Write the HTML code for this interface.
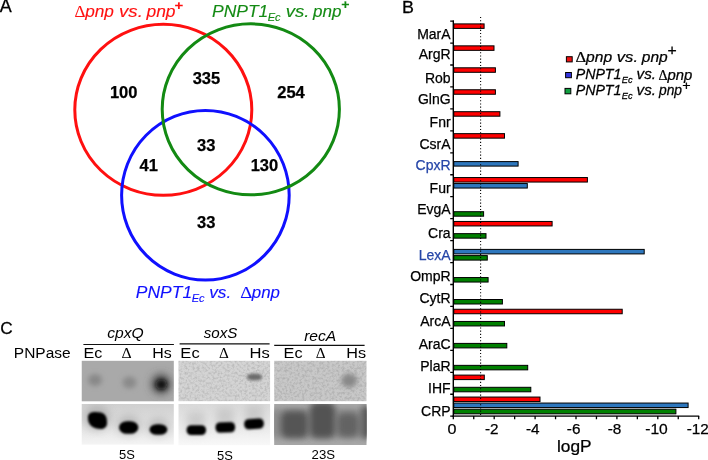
<!DOCTYPE html>
<html><head><meta charset="utf-8"><style>
html,body{margin:0;padding:0;background:#fff;}
svg{display:block;}
text{font-family:"Liberation Sans",Arial,sans-serif;stroke-width:0.25px;}
text.sr{font-family:"Liberation Serif",serif;}
</style></head><body>
<svg width="708" height="460" viewBox="0 0 708 460">
<defs>
<filter id="b0" x="-50%" y="-50%" width="200%" height="200%"><feGaussianBlur stdDeviation="0.8"/></filter>
<filter id="grain" x="0" y="0" width="100%" height="100%"><feTurbulence type="fractalNoise" baseFrequency="0.4" numOctaves="3" seed="5" result="t"/><feColorMatrix in="t" type="matrix" values="0 0 0 0 0  0 0 0 0 0  0 0 0 0 0  2.5 0 0 0 -1.0" result="a"/><feComposite in="SourceGraphic" in2="a" operator="in" result="c"/><feGaussianBlur in="c" stdDeviation="0.6"/></filter>
<filter id="b1" x="-50%" y="-50%" width="200%" height="200%"><feGaussianBlur stdDeviation="2.5"/></filter>
<filter id="b2" x="-50%" y="-50%" width="200%" height="200%"><feGaussianBlur stdDeviation="1.5"/></filter>
<filter id="b25" x="-50%" y="-50%" width="200%" height="200%"><feGaussianBlur stdDeviation="3.2"/></filter>
<filter id="b3" x="-50%" y="-50%" width="200%" height="200%"><feGaussianBlur stdDeviation="4"/></filter>
<linearGradient id="g5a" x1="0" y1="0" x2="0" y2="1"><stop offset="0" stop-color="#cfcfcf"/><stop offset="1" stop-color="#f4f4f4"/></linearGradient>
<linearGradient id="g5b" x1="0" y1="0" x2="0" y2="1"><stop offset="0" stop-color="#dadada"/><stop offset="1" stop-color="#f8f8f8"/></linearGradient>
<clipPath id="c1t"><rect x="81.5" y="360.6" width="92.4" height="41"/></clipPath>
<clipPath id="c2t"><rect x="178.3" y="360.6" width="92" height="40.8"/></clipPath>
<clipPath id="c3t"><rect x="274.1" y="360.6" width="92.6" height="40.8"/></clipPath>
<clipPath id="c1b"><rect x="81.5" y="403.9" width="92.4" height="40.9"/></clipPath>
<clipPath id="c2b"><rect x="178.3" y="403.9" width="92" height="41.5"/></clipPath>
<clipPath id="c3b"><rect x="274.1" y="403.9" width="92.6" height="41.2"/></clipPath>
</defs>
<rect width="708" height="460" fill="#fff"/>
<!-- Venn -->
<ellipse cx="163.3" cy="109.8" rx="88.5" ry="85.5" fill="none" stroke="#ff1010" stroke-width="3"/>
<ellipse cx="205.4" cy="195.2" rx="83.8" ry="84.8" fill="none" stroke="#1010ff" stroke-width="3"/>
<ellipse cx="250.8" cy="109.35" rx="88.6" ry="85.5" fill="none" stroke="#138a13" stroke-width="3"/>
<g font-weight="bold" font-size="16.5" text-anchor="middle" stroke="#000" style="stroke-width:0.1px">
<text x="123.7" y="98">100</text>
<text x="206.4" y="83.7">335</text>
<text x="291" y="98.2">254</text>
<text x="206.3" y="151.3">33</text>
<text x="148.8" y="171.4">41</text>
<text x="264.4" y="171.4">130</text>
<text x="206.3" y="228.1">33</text>
</g>
<!-- Bar chart -->
<rect x="453.8" y="23.90" width="30.3" height="4.5" fill="#ff0000" stroke="#000" stroke-width="1"/>
<text x="450.6" y="38.5" text-anchor="end" font-size="14" fill="#000" stroke="#000">MarA</text>
<rect x="453.8" y="45.85" width="40.2" height="4.5" fill="#ff0000" stroke="#000" stroke-width="1"/>
<text x="450.6" y="59.0" text-anchor="end" font-size="14" fill="#000" stroke="#000">ArgR</text>
<rect x="453.8" y="67.80" width="41.6" height="4.5" fill="#ff0000" stroke="#000" stroke-width="1"/>
<text x="450.6" y="82.7" text-anchor="end" font-size="14" fill="#000" stroke="#000">Rob</text>
<rect x="453.8" y="89.75" width="41.6" height="4.5" fill="#ff0000" stroke="#000" stroke-width="1"/>
<text x="450.6" y="104.3" text-anchor="end" font-size="14" fill="#000" stroke="#000">GlnG</text>
<rect x="453.8" y="111.70" width="46.1" height="4.5" fill="#ff0000" stroke="#000" stroke-width="1"/>
<text x="450.6" y="126.8" text-anchor="end" font-size="14" fill="#000" stroke="#000">Fnr</text>
<rect x="453.8" y="133.65" width="50.7" height="4.5" fill="#ff0000" stroke="#000" stroke-width="1"/>
<text x="450.6" y="149" text-anchor="end" font-size="14" fill="#000" stroke="#000">CsrA</text>
<rect x="453.8" y="161.60" width="64.3" height="4.5" fill="#2e77bd" stroke="#000" stroke-width="1"/>
<text x="450.6" y="169.8" text-anchor="end" font-size="14" fill="#2646a8" stroke="#2646a8">CpxR</text>
<rect x="453.8" y="177.55" width="133.6" height="4.5" fill="#ff0000" stroke="#000" stroke-width="1"/>
<rect x="453.8" y="183.55" width="73.5" height="4.5" fill="#2e77bd" stroke="#000" stroke-width="1"/>
<text x="450.6" y="193.4" text-anchor="end" font-size="14" fill="#000" stroke="#000">Fur</text>
<rect x="453.8" y="211.70" width="29.8" height="4.5" fill="#008000" stroke="#000" stroke-width="1"/>
<text x="450.6" y="213.9" text-anchor="end" font-size="14" fill="#000" stroke="#000">EvgA</text>
<rect x="453.8" y="221.45" width="98.3" height="4.5" fill="#ff0000" stroke="#000" stroke-width="1"/>
<rect x="453.8" y="233.65" width="32.2" height="4.5" fill="#008000" stroke="#000" stroke-width="1"/>
<text x="450.6" y="237.8" text-anchor="end" font-size="14" fill="#000" stroke="#000">Cra</text>
<rect x="453.8" y="249.40" width="190.4" height="4.5" fill="#2e77bd" stroke="#000" stroke-width="1"/>
<rect x="453.8" y="255.60" width="33.5" height="4.5" fill="#008000" stroke="#000" stroke-width="1"/>
<text x="450.6" y="260" text-anchor="end" font-size="14" fill="#2646a8" stroke="#2646a8">LexA</text>
<rect x="453.8" y="277.55" width="34.3" height="4.5" fill="#008000" stroke="#000" stroke-width="1"/>
<text x="450.6" y="280.9" text-anchor="end" font-size="14" fill="#000" stroke="#000">OmpR</text>
<rect x="453.8" y="299.50" width="48.6" height="4.5" fill="#008000" stroke="#000" stroke-width="1"/>
<text x="450.6" y="302.8" text-anchor="end" font-size="14" fill="#000" stroke="#000">CytR</text>
<rect x="453.8" y="309.25" width="168.4" height="4.5" fill="#ff0000" stroke="#000" stroke-width="1"/>
<rect x="453.8" y="321.45" width="50.7" height="4.5" fill="#008000" stroke="#000" stroke-width="1"/>
<text x="450.6" y="326.3" text-anchor="end" font-size="14" fill="#000" stroke="#000">ArcA</text>
<rect x="453.8" y="343.40" width="53.0" height="4.5" fill="#008000" stroke="#000" stroke-width="1"/>
<text x="450.6" y="348.7" text-anchor="end" font-size="14" fill="#000" stroke="#000">AraC</text>
<rect x="453.8" y="365.35" width="73.9" height="4.5" fill="#008000" stroke="#000" stroke-width="1"/>
<text x="450.6" y="370.9" text-anchor="end" font-size="14" fill="#000" stroke="#000">PlaR</text>
<rect x="453.8" y="375.10" width="30.5" height="4.5" fill="#ff0000" stroke="#000" stroke-width="1"/>
<rect x="453.8" y="387.30" width="77.0" height="4.5" fill="#008000" stroke="#000" stroke-width="1"/>
<text x="450.6" y="393.2" text-anchor="end" font-size="14" fill="#000" stroke="#000">IHF</text>
<rect x="453.8" y="397.05" width="86.2" height="4.5" fill="#ff0000" stroke="#000" stroke-width="1"/>
<rect x="453.8" y="403.05" width="234.3" height="4.5" fill="#2e77bd" stroke="#000" stroke-width="1"/>
<rect x="453.8" y="409.25" width="222.1" height="4.5" fill="#008000" stroke="#000" stroke-width="1"/>
<text x="450.6" y="415.5" text-anchor="end" font-size="14" fill="#000" stroke="#000">CRP</text>
<rect x="453.3" y="408.05" width="222.7" height="0.7" fill="#9c9c9c"/>
<rect x="453.3" y="414.25" width="222.7" height="1.2" fill="#a0a0a0"/>
<path d="M450.2 21.10H454 M450.2 43.05H454 M450.2 65.00H454 M450.2 86.95H454 M450.2 108.90H454 M450.2 130.85H454 M450.2 152.80H454 M450.2 174.75H454 M450.2 196.70H454 M450.2 218.65H454 M450.2 240.60H454 M450.2 262.55H454 M450.2 284.50H454 M450.2 306.45H454 M450.2 328.40H454 M450.2 350.35H454 M450.2 372.30H454 M450.2 394.25H454 M450.2 416.20H454" stroke="#000" stroke-width="1.3" fill="none"/>
<path d="M453.3 20.5V417" stroke="#000" stroke-width="1.4" fill="none"/>
<path d="M452.6 416.1H699.2" stroke="#000" stroke-width="1.3" fill="none"/>
<path d="M453.30 416V419.3 M473.75 416V419.3 M494.20 416V419.3 M514.65 416V419.3 M535.10 416V419.3 M555.55 416V419.3 M576.00 416V419.3 M596.45 416V419.3 M616.90 416V419.3 M637.35 416V419.3 M657.80 416V419.3 M678.25 416V419.3 M698.70 416V419.3" stroke="#000" stroke-width="1.3" fill="none"/>
<text x="491.80" y="433.6" text-anchor="middle" font-size="15.3" stroke="#000">-2</text>
<text x="532.70" y="433.6" text-anchor="middle" font-size="15.3" stroke="#000">-4</text>
<text x="573.60" y="433.6" text-anchor="middle" font-size="15.3" stroke="#000">-6</text>
<text x="614.50" y="433.6" text-anchor="middle" font-size="15.3" stroke="#000">-8</text>
<text x="697.80" y="433.6" text-anchor="middle" font-size="15.3" stroke="#000">-12</text>
<path d="M480.6 17V416" stroke="#000" stroke-width="1.1" stroke-dasharray="1.1 2.1" fill="none"/>
<!-- Legend squares -->
<rect x="566.4" y="56.7" width="5.8" height="5.2" fill="#ee1111" stroke="#000" stroke-width="1"/>
<rect x="565.6" y="72.5" width="5.8" height="5.2" fill="#3333dd" stroke="#000" stroke-width="1"/>
<rect x="565" y="88.4" width="5.8" height="5.4" fill="#10a040" stroke="#000" stroke-width="1"/>
<!-- Panel C lines -->
<path d="M83.4 344.5H173.9M179.6 343.9H269.6M274.2 345.3H364.6" stroke="#111" stroke-width="1.2"/>
<!-- gels top -->
<g clip-path="url(#c1t)">
<rect x="81.5" y="360.6" width="92.4" height="41" fill="#a9a9a9"/>
<ellipse cx="95" cy="380" rx="7" ry="6" fill="#888" filter="url(#b1)"/>
<ellipse cx="129.5" cy="382.5" rx="7" ry="6" fill="#8a8a8a" filter="url(#b1)"/>
<ellipse cx="161" cy="384" rx="9.5" ry="10" fill="#4a4a4a" filter="url(#b3)"/>
<ellipse cx="161.4" cy="384.6" rx="5.5" ry="5" fill="#101010" filter="url(#b1)"/>
</g>
<g clip-path="url(#c2t)">
<rect x="178.3" y="360.6" width="92" height="40.8" fill="#d4d4d4"/>
<rect x="178.3" y="360.6" width="92" height="40.8" fill="#000" filter="url(#grain)" opacity="0.11"/>
<ellipse cx="254.5" cy="377" rx="8" ry="3.5" fill="#6a6a6a" filter="url(#b2)"/>
</g>
<g clip-path="url(#c3t)">
<rect x="274.1" y="360.6" width="92.6" height="40.8" fill="#c8c8c8"/>
<rect x="274.1" y="360.6" width="92.6" height="40.8" fill="#000" filter="url(#grain)" opacity="0.11"/>
<ellipse cx="349.2" cy="380.5" rx="8" ry="7" fill="#888" filter="url(#b1)"/>
</g>
<!-- gels bottom -->
<g clip-path="url(#c1b)">
<rect x="81.5" y="403.9" width="92.4" height="40.9" fill="url(#g5a)"/>
<ellipse cx="97" cy="418" rx="13" ry="12" fill="#9a9a9a" filter="url(#b3)" opacity="0.6"/>
<ellipse cx="128.5" cy="425" rx="12" ry="10" fill="#9a9a9a" filter="url(#b3)" opacity="0.5"/>
<ellipse cx="158.3" cy="427" rx="11" ry="9" fill="#9a9a9a" filter="url(#b3)" opacity="0.5"/>
<path d="M88 417 C88 411,96 411.5,101 412.5 C106 414,107.2 418,107 423 C107 428,103 429.5,98 428.8 C92 428,87.5 424,88 417Z" fill="#000" filter="url(#b0)"/>
<rect x="119" y="421.2" width="19.3" height="12.6" rx="8" ry="6.3" fill="#000" filter="url(#b0)"/>
<rect x="149.5" y="424.2" width="17.8" height="10.6" rx="7.5" ry="5.3" fill="#000" filter="url(#b0)"/>
</g>
<g clip-path="url(#c2b)">
<rect x="178.3" y="403.9" width="92" height="41.5" fill="url(#g5b)"/>
<rect x="187" y="412" width="18" height="22" fill="#b0b0b0" filter="url(#b3)" opacity="0.5"/>
<rect x="216" y="408" width="18" height="22" fill="#b0b0b0" filter="url(#b3)" opacity="0.5"/>
<rect x="245" y="405" width="18" height="22" fill="#b0b0b0" filter="url(#b3)" opacity="0.5"/>
<rect x="186.6" y="425.2" width="19.4" height="9.8" rx="4.5" fill="#000" filter="url(#b0)"/>
<rect x="215.5" y="422.3" width="19.6" height="10.2" rx="4.5" fill="#000" filter="url(#b0)" transform="rotate(-2 225 427.4)"/>
<rect x="244.2" y="418.8" width="19.6" height="10.2" rx="4.5" fill="#000" filter="url(#b0)" transform="rotate(-4 254 424)"/>
</g>
<g clip-path="url(#c3b)">
<rect x="274.1" y="403.9" width="92.6" height="41.2" fill="#a8a8a8"/>
<rect x="270" y="409" width="100" height="29" fill="#8c8c8c" filter="url(#b25)"/>
<rect x="281" y="411" width="27" height="27" rx="7" fill="#555" filter="url(#b25)"/>
<rect x="310" y="402" width="25" height="36" rx="7" fill="#525252" filter="url(#b25)"/>
<rect x="337" y="413" width="22" height="24" rx="7" fill="#646464" filter="url(#b25)"/>
<rect x="362" y="406" width="10" height="32" rx="3" fill="#555" filter="url(#b25)"/>
</g>
<!-- texts -->
<text transform="translate(-0.30 11.70) scale(1.026 1)" font-size="17.5" fill="#000" stroke="#000">A</text>
<text transform="translate(401.94 12.80) scale(1.086 1)" font-size="16.5" fill="#000" stroke="#000">B</text>
<text transform="translate(0.21 334.38) scale(1.048 1)" font-size="16.5" fill="#000" stroke="#000">C</text>
<text transform="translate(74.43 16.77) scale(1.027 1)" font-size="16.5" class="sr" fill="#ff1010" stroke="#ff1010" style="stroke-width:0.12px">Δ</text>
<text transform="translate(85.16 16.90) scale(1.046 1)" font-size="16.5" font-style="italic" fill="#ff1010" stroke="#ff1010" style="stroke-width:0.12px">pnp</text>
<text transform="translate(119.07 16.90) scale(1.128 1)" font-size="16.5" font-style="italic" fill="#ff1010" stroke="#ff1010" style="stroke-width:0.12px">vs.</text>
<text transform="translate(146.46 16.90) scale(1.057 1)" font-size="16.5" font-style="italic" fill="#ff1010" stroke="#ff1010" style="stroke-width:0.12px">pnp</text>
<text transform="translate(174.40 9.57) scale(1.200 1)" font-size="12.5" font-weight="bold" fill="#ff1010" stroke="#ff1010" style="stroke-width:0.12px">+</text>
<text transform="translate(211.97 16.70) scale(1.060 1)" font-size="16.5" font-style="italic" fill="#138a13" stroke="#138a13" style="stroke-width:0.12px">PNPT1</text>
<text transform="translate(267.64 20.57) scale(1.055 1)" font-size="10.5" font-style="italic" fill="#138a13" stroke="#138a13" style="stroke-width:0.12px">Ec</text>
<text transform="translate(285.67 16.70) scale(1.128 1)" font-size="16.5" font-style="italic" fill="#138a13" stroke="#138a13" style="stroke-width:0.12px">vs.</text>
<text transform="translate(313.06 16.70) scale(1.035 1)" font-size="16.5" font-style="italic" fill="#138a13" stroke="#138a13" style="stroke-width:0.12px">pnp</text>
<text transform="translate(341.23 9.38) scale(1.136 1)" font-size="12.5" font-weight="bold" fill="#138a13" stroke="#138a13" style="stroke-width:0.12px">+</text>
<text transform="translate(135.87 298.40) scale(1.058 1)" font-size="16.5" font-style="italic" fill="#1010ff" stroke="#1010ff" style="stroke-width:0.12px">PNPT1</text>
<text transform="translate(191.64 301.98) scale(1.055 1)" font-size="10.5" font-style="italic" fill="#1010ff" stroke="#1010ff" style="stroke-width:0.12px">Ec</text>
<text transform="translate(209.16 298.40) scale(1.044 1)" font-size="16.5" font-style="italic" fill="#1010ff" stroke="#1010ff" style="stroke-width:0.12px">vs.</text>
<text transform="translate(240.25 298.23) scale(1.135 1)" font-size="16.5" class="sr" fill="#1010ff" stroke="#1010ff" style="stroke-width:0.12px">Δ</text>
<text transform="translate(251.76 298.40) scale(1.024 1)" font-size="16.5" font-style="italic" fill="#1010ff" stroke="#1010ff" style="stroke-width:0.12px">pnp</text>
<text transform="translate(575.53 62.30) scale(1.139 1)" font-size="14.5" class="sr" fill="#000" stroke="#000">Δ</text>
<text transform="translate(586.07 62.20) scale(1.075 1)" font-size="14.5" font-style="italic" fill="#000" stroke="#000">pnp</text>
<text transform="translate(616.74 62.20) scale(1.150 1)" font-size="14.5" font-style="italic" fill="#000" stroke="#000">vs.</text>
<text transform="translate(641.77 62.20) scale(1.071 1)" font-size="14.5" font-style="italic" fill="#000" stroke="#000">pnp</text>
<text transform="translate(667.56 55.48) scale(1.126 1)" font-size="14" fill="#000" stroke="#000">+</text>
<text transform="translate(575.69 79.40) scale(1.014 1)" font-size="14" font-style="italic" fill="#000" stroke="#000">PNPT1</text>
<text transform="translate(621.76 83.20) scale(0.977 1)" font-size="9.5" font-style="italic" fill="#000" stroke="#000">Ec</text>
<text transform="translate(636.61 79.40) scale(1.050 1)" font-size="14.5" font-style="italic" fill="#000" stroke="#000">vs.</text>
<text transform="translate(658.62 79.60) scale(0.970 1)" font-size="14.5" class="sr" fill="#000" stroke="#000">Δ</text>
<text transform="translate(667.46 79.50) scale(1.025 1)" font-size="14.5" font-style="italic" fill="#000" stroke="#000">pnp</text>
<text transform="translate(575.69 95.20) scale(1.014 1)" font-size="14" font-style="italic" fill="#000" stroke="#000">PNPT1</text>
<text transform="translate(621.76 99.20) scale(0.977 1)" font-size="9.5" font-style="italic" fill="#000" stroke="#000">Ec</text>
<text transform="translate(636.61 95.20) scale(1.050 1)" font-size="14.5" font-style="italic" fill="#000" stroke="#000">vs.</text>
<text transform="translate(658.94 95.20) scale(0.954 1)" font-size="14.5" font-style="italic" fill="#000" stroke="#000">pnp</text>
<text transform="translate(682.17 89.92) scale(1.104 1)" font-size="13" fill="#000" stroke="#000">+</text>
<text transform="translate(447.47 433.62) scale(1.053 1)" font-size="15.3" fill="#000" stroke="#000">0</text>
<text transform="translate(645.23 433.52) scale(1.022 1)" font-size="15.3" fill="#000" stroke="#000">-10</text>
<text transform="translate(557.02 451.60) scale(1.081 1)" font-size="16" fill="#000" stroke="#000">logP</text>
<text transform="translate(13.81 358.00) scale(1.034 1)" font-size="15" fill="#000">PNPase</text>
<text transform="translate(107.18 338.30) scale(1.044 1)" font-size="15" font-style="italic" fill="#000">cpxQ</text>
<text transform="translate(203.65 337.90) scale(1.011 1)" font-size="15" font-style="italic" fill="#000">soxS</text>
<text transform="translate(304.14 341.00) scale(1.042 1)" font-size="15" font-style="italic" fill="#000">recA</text>
<text transform="translate(83.51 358.30) scale(1.115 1)" font-size="14.5" fill="#000">Ec</text>
<text transform="translate(121.45 358.30) scale(1.091 1)" font-size="14.5" class="sr" fill="#000">Δ</text>
<text transform="translate(152.32 358.30) scale(1.100 1)" font-size="14.5" fill="#000">Hs</text>
<text transform="translate(180.37 358.10) scale(1.141 1)" font-size="14.5" fill="#000">Ec</text>
<text transform="translate(219.07 358.10) scale(1.055 1)" font-size="14.5" class="sr" fill="#000">Δ</text>
<text transform="translate(249.47 358.10) scale(1.144 1)" font-size="14.5" fill="#000">Hs</text>
<text transform="translate(283.60 358.40) scale(1.121 1)" font-size="14.5" fill="#000">Ec</text>
<text transform="translate(315.77 358.40) scale(1.055 1)" font-size="14.5" class="sr" fill="#000">Δ</text>
<text transform="translate(346.30 358.40) scale(1.119 1)" font-size="14.5" fill="#000">Hs</text>
<text transform="translate(119.10 458.75) scale(0.997 1)" font-size="13" fill="#000">5S</text>
<text transform="translate(217.10 459.75) scale(0.997 1)" font-size="13" fill="#000">5S</text>
<text transform="translate(311.54 459.10) scale(1.016 1)" font-size="13" fill="#000">23S</text>
</svg>
</body></html>
